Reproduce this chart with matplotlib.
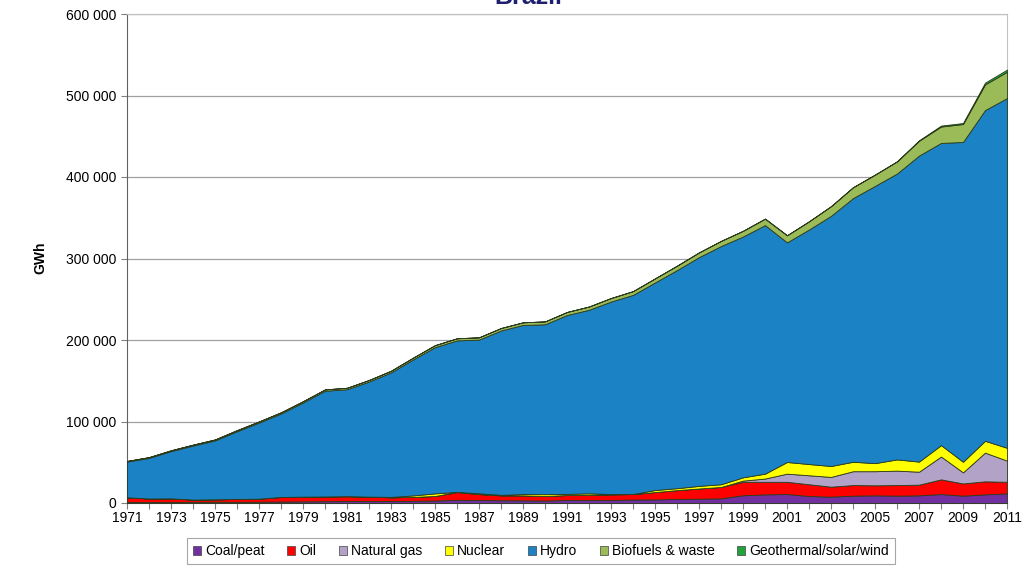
import numpy as np
import matplotlib.pyplot as plt
from matplotlib.ticker import FuncFormatter, MultipleLocator
from matplotlib.patches import Patch

plt.rcParams['font.family'] = ['Liberation Sans', 'DejaVu Sans']

years = list(range(1971, 2012))

# thousand GWh
coal = [1.2, 1.3, 1.4, 1.4, 1.5, 1.5, 1.6, 1.8, 2.0, 2.2,
        2.4, 2.4, 2.4, 2.7, 3.0, 4.0, 3.6, 3.4, 3.3, 3.0,
        3.7, 3.6, 3.8, 4.3, 4.4, 5.0, 5.3, 5.7, 9.5, 10.6,
        11.0, 8.6, 7.8, 9.0, 9.4, 9.0, 9.4, 11.0, 9.0, 10.6, 11.9]
oil = [5.8, 4.2, 4.3, 2.8, 3.0, 3.5, 3.7, 5.6, 5.8, 5.8,
       6.0, 5.4, 4.6, 4.8, 5.6, 9.5, 7.4, 6.0, 6.1, 5.6,
       6.1, 6.5, 6.8, 6.7, 9.0, 10.8, 12.5, 14.0, 16.5, 15.4,
       15.0, 14.4, 12.2, 13.0, 12.3, 13.0, 13.1, 18.0, 15.0, 16.0, 14.1]
gas = [0, 0, 0, 0, 0, 0, 0, 0, 0, 0,
       0, 0, 0, 0, 0, 0, 0, 0, 0, 0,
       0, 0, 0, 0, 0, 0, 0, 0, 1.5, 4.0,
       10.0, 11.0, 12.0, 17.0, 17.3, 17.7, 15.9, 28.0, 13.6, 35.2, 26.0]
nuclear = [0, 0, 0, 0, 0, 0, 0, 0, 0, 0,
           0, 0.05, 0.5, 1.8, 3.2, 0.1, 0.9, 0.6, 1.6, 2.2,
           1.4, 1.8, 0.4, 0.06, 2.5, 2.4, 3.2, 3.3, 4.0, 6.0,
           14.3, 13.8, 13.4, 11.6, 9.9, 13.8, 12.4, 14.0, 13.0, 14.5, 15.7]
hydro = [43.8, 49.9, 58.0, 66.3, 72.3, 83.1, 93.4, 102.4, 115.5, 129.7,
         131.2, 141.2, 152.8, 166.8, 179.5, 185.9, 188.6, 201.7, 207.5, 208.5,
         219.5, 225.2, 236.2, 244.3, 254.7, 267.6, 280.7, 292.3, 295.5, 305.0,
         269.5, 287.8, 307.0, 323.5, 340.2, 350.8, 375.5, 370.8, 392.4, 405.8, 429.2]
biofuels = [0.8, 0.9, 1.0, 1.1, 1.2, 1.3, 1.4, 1.5, 1.6, 1.7,
            1.8, 1.9, 2.0, 2.2, 2.4, 2.6, 2.8, 3.0, 3.2, 3.5,
            3.7, 4.0, 4.3, 4.6, 5.0, 5.4, 5.8, 6.3, 7.0, 7.9,
            8.7, 10.0, 11.8, 13.3, 13.8, 14.8, 18.1, 20.1, 22.0, 31.5, 32.2]
geo_wind = [0, 0, 0, 0, 0, 0, 0, 0, 0, 0,
            0, 0, 0, 0, 0, 0, 0, 0, 0, 0,
            0, 0, 0, 0, 0, 0, 0, 0, 0, 0,
            0, 0.06, 0.06, 0.06, 0.09, 0.24, 0.66, 1.18, 1.24, 2.18, 2.7]

labels = ['Coal/peat', 'Oil', 'Natural gas', 'Nuclear', 'Hydro',
          'Biofuels & waste', 'Geothermal/solar/wind']
colors = ['#7030A0', '#FF0000', '#B3A2C7', '#FFFF00', '#1B82C5',
          '#9BBB59', '#1FA33A']

series = [np.array(s) * 1000 for s in
          [coal, oil, gas, nuclear, hydro, biofuels, geo_wind]]

fig = plt.figure(figsize=(10.24, 5.67), dpi=100)
ax = fig.add_axes([127 / 1024, 1 - 503 / 567, 880 / 1024, 489 / 567])

ax.stackplot(years, *series, colors=colors, edgecolor='#2b3a1a',
             linewidth=0.6, zorder=3)

ax.set_xlim(1971, 2011)
ax.set_ylim(0, 600000)
ax.yaxis.set_major_locator(MultipleLocator(100000))
ax.yaxis.set_major_formatter(
    FuncFormatter(lambda v, p: f"{int(v):,}".replace(',', ' ')))
ax.set_xticks(years)
ax.set_xticklabels([str(y) if (y - 1971) % 2 == 0 else '' for y in years])
ax.tick_params(axis='both', direction='out', length=4, width=0.8,
               color='#808080', labelsize=10, colors='black')
ax.tick_params(axis='x', length=4, pad=2)

ax.grid(axis='y', color='#a0a0a0', linewidth=0.9, zorder=0)
ax.set_axisbelow(True)
for side in ['top', 'right']:
    ax.spines[side].set_color('#c0c0c0')
for side in ['left', 'bottom']:
    ax.spines[side].set_color('#606060')

fig.text(40 / 1024, 1 - 258 / 567, 'GWh', rotation=90, fontsize=10,
         fontweight='bold', ha='center', va='center')
fig.text(528 / 1024, 1 - 4 / 567, 'Brazil', fontsize=18, fontweight='bold',
         color='#1F1F6F', ha='center', va='baseline')

handles = [Patch(facecolor=c, edgecolor='#404040', linewidth=0.5)
           for c in colors]
leg = fig.legend(handles, labels, loc='center', ncol=7,
                 bbox_to_anchor=(541 / 1024, 1 - 551 / 567), fontsize=10,
                 frameon=True, fancybox=False, handlelength=0.6,
                 handleheight=0.6, handletextpad=0.3, columnspacing=1.6,
                 borderpad=0.4)
leg.get_frame().set_edgecolor('#909090')
leg.get_frame().set_linewidth(0.8)

fig.savefig('out.png', dpi=100)
